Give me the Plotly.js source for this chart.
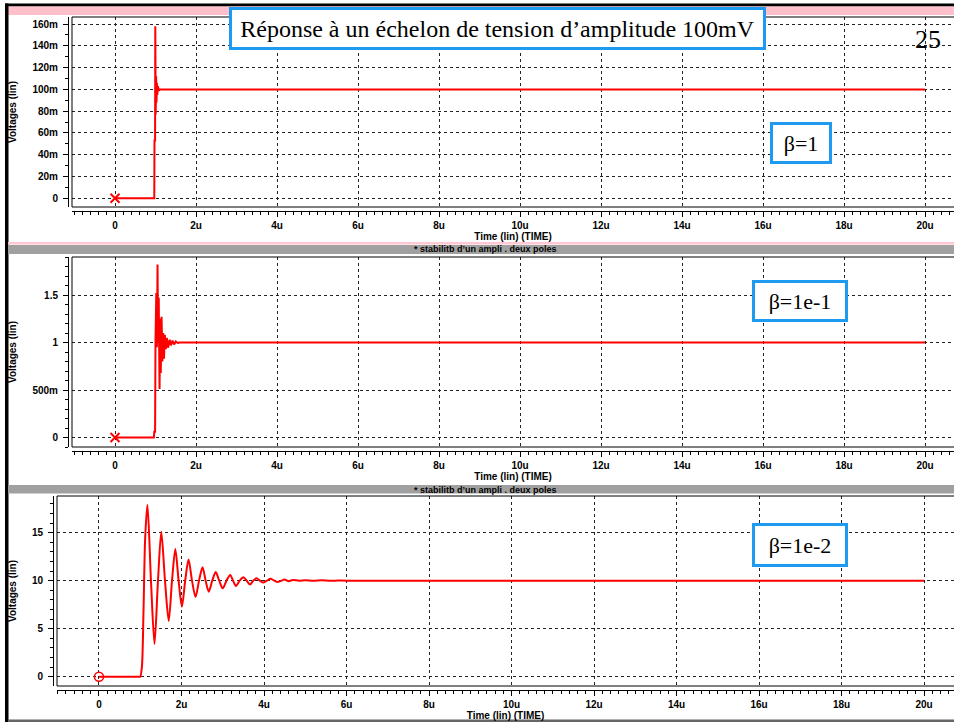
<!DOCTYPE html>
<html><head><meta charset="utf-8">
<script src="https://cdn.plot.ly/plotly-3.0.1.min.js"></script>
<style>html,body{margin:0;padding:0;background:#fff;overflow:hidden}#chart{width:954px;height:722px}</style>
</head><body><div id="chart"></div><script>
// ---- data (time in microseconds, voltage in volts) ----
const timeTickVals = [0, 2, 4, 6, 8, 10, 12, 14, 16, 18, 20];
const timeTickText = ['0', '2u', '4u', '6u', '8u', '10u', '12u', '14u', '16u', '18u', '20u'];

const v1TickVals = [0, 0.02, 0.04, 0.06, 0.08, 0.10, 0.12, 0.14, 0.16];
const v1TickText = ['0', '20m', '40m', '60m', '80m', '100m', '120m', '140m', '160m'];
const v2TickVals = [0, 0.5, 1, 1.5];
const v2TickText = ['0', '500m', '1', '1.5'];
const v3TickVals = [0, 5, 10, 15];
const v3TickText = ['0', '5', '10', '15'];

// beta = 1
const t1 = [0, 0.97, 0.975, 0.99, 0.995, 1.005, 1.015, 1.025, 1.035, 1.045, 1.06, 1.08, 1.11, 20];
const v1 = [0, 0, 0.053, 0.053, 0.158, 0.077, 0.112, 0.088, 0.106, 0.095, 0.103, 0.099, 0.1, 0.1];

// beta = 1e-1
const t2 = [0, 0.96, 0.97, 0.99, 1.0, 1.02, 1.035, 1.05, 1.065, 1.08, 1.1, 1.115, 1.13, 1.15, 1.17, 1.19, 1.21, 1.23, 1.255, 1.28, 1.31, 1.35, 1.38, 1.42, 1.46, 1.5, 1.55, 1.6, 20];
const v2 = [0, 0, 0.06, 0.06, 1.02, 1.52, 0.95, 1.82, 1.0, 1.47, 0.51, 1.25, 0.68, 1.27, 0.8, 1.1, 0.83, 1.08, 0.93, 1.05, 0.945, 1.03, 0.97, 1.02, 0.98, 1.01, 0.995, 1.0, 1.0];

// beta = 1e-2
const t3 = [0, 0.97, 1.0, 1.04, 1.08, 1.12, 1.175, 1.26, 1.345, 1.43, 1.51, 1.6, 1.69, 1.77, 1.85, 1.93, 2.01, 2.09, 2.17, 2.255, 2.34, 2.425, 2.51, 2.585, 2.66, 2.745, 2.83, 2.915, 3.0, 3.09, 3.18, 3.25, 3.32, 3.41, 3.5, 3.58, 3.66, 3.74, 3.82, 3.9, 3.98, 4.07, 4.16, 4.25, 4.33, 4.42, 4.5, 4.6, 4.7, 4.85, 5.0, 5.2, 5.4, 5.6, 5.8, 6.0, 20];
const v3 = [0, 0, 0, 1.0, 7, 14.5, 17.9, 10, 3.4, 10, 15.1, 10, 5.8, 10, 13.3, 10, 7.3, 10, 12.2, 10, 8.3, 10, 11.4, 10, 8.85, 10, 10.9, 10, 9.2, 10, 10.6, 10, 9.45, 10, 10.35, 10, 9.6, 10, 10.25, 10, 9.8, 10, 10.2, 10, 9.85, 10, 10.12, 9.95, 10.08, 10, 10.05, 9.98, 10.04, 9.99, 10.02, 10, 10];

const mainTitle = 'Réponse à un échelon de tension d\u2019amplitude 100mV';
const pageNumber = '25';
const betaLabels = ['\u03b2=1', '\u03b2=1e-1', '\u03b2=1e-2'];
const bannerText = '* stabilitb d\u2019un ampli . deux poles';
const xTitle = 'Time (lin) (TIME)';
const yTitle = 'Voltages (lin)';

// ---- layout helpers ----
const W = 954, H = 722;
const px = x => x / W;
const py = y => 1 - y / H;
const RED = '#ff0000';
const BLUE = '#1e9bf0';
const SANS = 'Liberation Sans, Arial, sans-serif';
const tickFont = {family: SANS, size: 10, color: '#000', weight: 700};
const titleFont = {family: SANS, size: 10, color: '#000', weight: 700};
const gridStyle = {showgrid: true, gridcolor: '#222', gridwidth: 1, griddash: '3px,3px', zeroline: false};

function xAxis(left, range, lineY) {
  return Object.assign({
    domain: [px(left), 1], range: range, anchor: 'free', position: py(lineY),
    tickmode: 'array', tickvals: timeTickVals, ticktext: timeTickText,
    ticks: 'outside', ticklen: 5, tickwidth: 1, tickcolor: '#000',
    showline: true, linecolor: '#000', linewidth: 1,
    tickfont: tickFont, automargin: false,
    minor: {tickmode: 'linear', tick0: 0, dtick: 0.2, ticks: 'outside', ticklen: 3, tickcolor: '#000', showgrid: false},
    title: {text: xTitle, font: titleFont, standoff: 2}
  }, gridStyle);
}
function yAxis(top, bottom, range, lineX, vals, text, minorStep) {
  return Object.assign({
    domain: [py(bottom), py(top)], range: range, anchor: 'free', position: px(lineX),
    tickmode: 'array', tickvals: vals, ticktext: text,
    ticks: 'outside', ticklen: 5, tickwidth: 1, tickcolor: '#000',
    showline: true, linecolor: '#000', linewidth: 1,
    tickfont: tickFont, automargin: false, ticklabelstandoff: 3,
    minor: {tickmode: 'linear', tick0: 0, dtick: minorStep, ticks: 'outside', ticklen: 3, tickcolor: '#000', showgrid: false},
    title: {text: yTitle, font: titleFont, standoff: 12}
  }, gridStyle);
}

const traces = [
  {x: t1, y: v1, xaxis: 'x', yaxis: 'y', mode: 'lines', line: {color: RED, width: 2}, hoverinfo: 'skip'},
  {x: [t1[0]], y: [v1[0]], xaxis: 'x', yaxis: 'y', mode: 'markers', marker: {symbol: 'x-thin', size: 9, color: RED, line: {color: RED, width: 2}}, hoverinfo: 'skip'},
  {x: t2, y: v2, xaxis: 'x2', yaxis: 'y2', mode: 'lines', line: {color: RED, width: 2}, hoverinfo: 'skip'},
  {x: [t2[0]], y: [v2[0]], xaxis: 'x2', yaxis: 'y2', mode: 'markers', marker: {symbol: 'x-thin', size: 9, color: RED, line: {color: RED, width: 2}}, hoverinfo: 'skip'},
  {x: t3, y: v3, xaxis: 'x3', yaxis: 'y3', mode: 'lines', line: {color: RED, width: 2, shape: 'spline', smoothing: 0.8}, hoverinfo: 'skip'},
  {x: [t3[0]], y: [v3[0]], xaxis: 'x3', yaxis: 'y3', mode: 'markers', marker: {symbol: 'circle-open', size: 9, color: RED, line: {color: RED, width: 1.5}}, hoverinfo: 'skip'}
];

function paperRect(x0, y0, x1, y1, color) {
  return {type: 'rect', xref: 'paper', yref: 'paper', x0: px(x0), x1: px(x1), y0: py(y1), y1: py(y0), fillcolor: color, line: {width: 0}, layer: 'below'};
}
function boxLines(xa, ya) {
  const l = {color: '#000', width: 1};
  return [
    {type: 'line', xref: xa + ' domain', yref: ya + ' domain', x0: 0, x1: 1.05, y0: 1, y1: 1, line: l},
    {type: 'line', xref: xa + ' domain', yref: ya + ' domain', x0: 0, x1: 1.05, y0: 0, y1: 0, line: l},
    {type: 'line', xref: xa + ' domain', yref: ya + ' domain', x0: 0, x1: 0, y0: 0, y1: 1, line: l}
  ];
}

const shapes = [
  paperRect(5, 3.5, 954, 6.5, '#000'),
  paperRect(8, 6.5, 954, 15, '#ffc0cb'),
  paperRect(5, 3.5, 8.5, 722, '#000'),
  paperRect(8, 242, 954, 244.5, '#ffc8d2'),
  paperRect(8, 245, 954, 254, '#a0a0a0'),
  paperRect(8, 485, 954, 493.5, '#a0a0a0'),
  paperRect(8, 719.5, 954, 722, '#666'),
  ...boxLines('x', 'y'), ...boxLines('x2', 'y2'), ...boxLines('x3', 'y3')
];

const serif = 'Liberation Serif, Times New Roman, serif';
function betaBox(text, cx, cy, w, h) {
  return {xref: 'paper', yref: 'paper', x: px(cx), y: py(cy), xanchor: 'center', yanchor: 'middle',
    text: text, showarrow: false, font: {family: serif, size: 22, color: '#000'},
    bgcolor: '#fff', bordercolor: BLUE, borderwidth: 3, borderpad: 2, width: w, height: h, align: 'center', valign: 'middle'};
}
const bannerFont = {family: SANS, size: 9, color: '#000', weight: 700};
const annotations = [
  {xref: 'paper', yref: 'paper', x: px(485), y: py(249.5), xanchor: 'center', yanchor: 'middle', text: bannerText, showarrow: false, font: bannerFont},
  {xref: 'paper', yref: 'paper', x: px(485), y: py(489.5), xanchor: 'center', yanchor: 'middle', text: bannerText, showarrow: false, font: bannerFont},
  {xref: 'paper', yref: 'paper', x: px(497.5), y: py(28.5), xanchor: 'center', yanchor: 'middle', text: mainTitle, showarrow: false,
    font: {family: serif, size: 24, color: '#000'}, bgcolor: '#fff', bordercolor: BLUE, borderwidth: 3, borderpad: 2, width: 527, height: 33, align: 'center', valign: 'middle'},
  {xref: 'paper', yref: 'paper', x: px(928), y: py(39), xanchor: 'center', yanchor: 'middle', text: pageNumber, showarrow: false, font: {family: serif, size: 26, color: '#000'}},
  betaBox(betaLabels[0], 801, 143, 52, 32),
  betaBox(betaLabels[1], 800, 300.5, 86, 32),
  betaBox(betaLabels[2], 800, 544.5, 86, 34)
];

const layout = {
  width: W, height: H, margin: {l: 0, r: 0, t: 0, b: 0},
  paper_bgcolor: '#fff', plot_bgcolor: 'rgba(0,0,0,0)', showlegend: false,
  xaxis: xAxis(72, [-1.0617, 20.716], 211),
  yaxis: yAxis(17, 207, [-0.008, 0.1665], 68, v1TickVals, v1TickText, 0.01),
  xaxis2: xAxis(72, [-1.0617, 20.716], 451),
  yaxis2: yAxis(257, 447, [-0.1, 1.9], 68, v2TickVals, v2TickText, 0.1),
  xaxis3: xAxis(57, [-1.018, 20.727], 690),
  yaxis3: yAxis(496, 686, [-0.97, 18.82], 53, v3TickVals, v3TickText, 1),
  shapes: shapes, annotations: annotations
};

Plotly.newPlot('chart', traces, layout, {staticPlot: true, displayModeBar: false});
</script></body></html>
